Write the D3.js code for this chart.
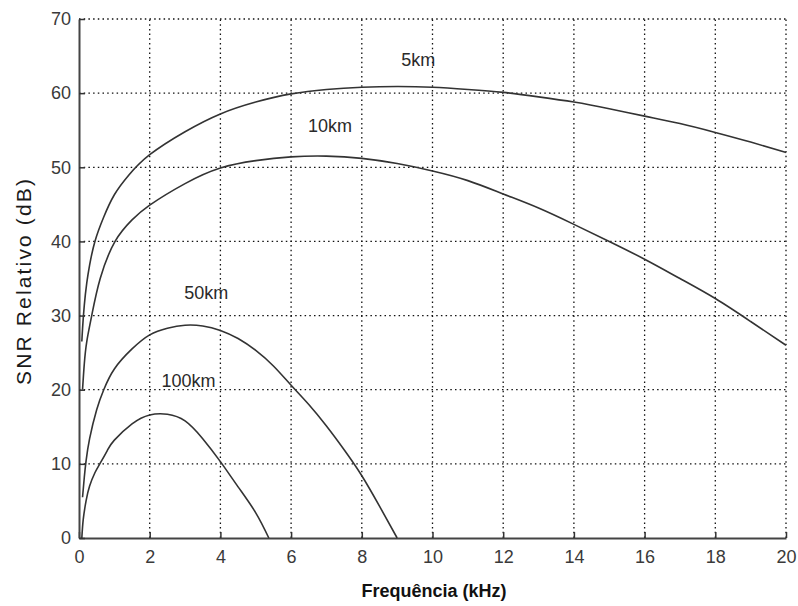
<!DOCTYPE html>
<html>
<head>
<meta charset="utf-8">
<script src="https://cdn.jsdelivr.net/npm/d3@7"></script>
<style>
  html, body { margin: 0; padding: 0; background: #fff; }
  svg { display: block; }
</style>
</head>
<body>
<svg id="chart" width="798" height="606"></svg>
<script>
// ---- data ----
const xTicks = [0, 2, 4, 6, 8, 10, 12, 14, 16, 18, 20];
const yTicks = [0, 10, 20, 30, 40, 50, 60, 70];

const freq5km = [0.08, 0.1, 0.15, 0.22, 0.3, 0.45, 0.7, 1, 1.4, 2, 3, 4, 5, 6, 7, 8, 9, 10, 11, 12, 13, 14, 15, 16, 17, 18, 19, 20];
const snr5km  = [26.5, 28.2, 31.4, 34.4, 36.8, 40, 43.3, 46.3, 48.9, 51.7, 54.8, 57.2, 58.8, 59.9, 60.5, 60.8, 60.9, 60.8, 60.5, 60.1, 59.5, 58.8, 57.9, 56.9, 55.9, 54.7, 53.4, 52];

const freq10km = [0.1, 0.15, 0.22, 0.36, 0.6, 1.02, 1.5, 2, 3, 4, 5, 6, 7, 8, 9, 10, 11, 12, 13, 14, 15, 16, 17, 18, 19, 20];
const snr10km  = [20, 23.5, 26.5, 30, 35, 40, 42.9, 44.9, 47.8, 49.9, 50.9, 51.4, 51.5, 51.2, 50.5, 49.5, 48.2, 46.4, 44.5, 42.3, 40, 37.6, 35, 32.3, 29.2, 26];

const freq50km = [0.1, 0.15, 0.2, 0.3, 0.5, 0.7, 1, 1.5, 2, 2.5, 3, 3.5, 4, 4.5, 5, 5.5, 6, 6.5, 7, 7.5, 8, 8.5, 9];
const snr50km  = [5.5, 8.2, 10.4, 13.4, 17.3, 20, 22.8, 25.5, 27.4, 28.3, 28.7, 28.6, 28, 26.9, 25.3, 23.2, 20.6, 18, 15.1, 11.9, 8.4, 4.3, 0];

const freq100km = [0.08, 0.12, 0.2, 0.3, 0.45, 0.6, 0.8, 1, 1.5, 2, 2.5, 3, 3.5, 4, 4.5, 5, 5.37];
const snr100km  = [0, 2.5, 5, 7, 8.8, 10.1, 11.8, 13.2, 15.4, 16.6, 16.7, 15.8, 13.4, 10.3, 6.9, 3.4, 0];

const seriesNames = ["5km", "10km", "50km", "100km"];
const labelAnchors = [[9.6, 63.6], [7.1, 54.7], [3.6, 32.3], [3.1, 20.3]]; // data-space label positions

const xLabel = "Frequência (kHz)";
const yLabel = "SNR Relativo (dB)";

// ---- layout ----
const svg = d3.select("#chart");
const mLeft = 79, mRight = 786, mTop = 19, mBottom = 538;

const x = d3.scaleLinear().domain([0, 20]).range([mLeft, mRight]);
const y = d3.scaleLinear().domain([0, 70]).range([mBottom, mTop]);

const series = [
  freq5km.map((f, i) => [f, snr5km[i]]),
  freq10km.map((f, i) => [f, snr10km[i]]),
  freq50km.map((f, i) => [f, snr50km[i]]),
  freq100km.map((f, i) => [f, snr100km[i]])
];

// grid
const grid = svg.append("g").attr("stroke", "#111").attr("stroke-width", 1.3)
  .attr("stroke-dasharray", "1.5,3.2").attr("fill", "none");
grid.selectAll("line.v").data(xTicks.filter(d => d > 0)).join("line").attr("class", "v")
  .attr("x1", d => x(d)).attr("x2", d => x(d)).attr("y1", y(0)).attr("y2", y(70));
grid.selectAll("line.h").data(yTicks.filter(d => d > 0)).join("line").attr("class", "h")
  .attr("y1", d => y(d)).attr("y2", d => y(d)).attr("x1", x(0)).attr("x2", x(20));

// axes
const xAxis = d3.axisBottom(x).tickValues(xTicks).tickSizeInner(-6).tickSizeOuter(0).tickPadding(12);
const yAxis = d3.axisLeft(y).tickValues(yTicks).tickSizeInner(-6).tickSizeOuter(0).tickPadding(8);

const gx = svg.append("g").attr("transform", `translate(0,${mBottom})`).call(xAxis);
const gy = svg.append("g").attr("transform", `translate(${mLeft},0)`).call(yAxis);
[gx, gy].forEach(g => {
  g.select(".domain").attr("stroke", "#444").attr("stroke-width", 2);
  g.selectAll(".tick line").attr("stroke", "#333").attr("stroke-width", 1.5);
  g.selectAll(".tick text").attr("font-family", "'Liberation Sans', Arial, sans-serif")
    .attr("font-size", 18).attr("fill", "#3a3a3a");
});

// curves
const line = d3.line().x(d => x(d[0])).y(d => y(d[1])).curve(d3.curveNatural);
svg.append("g").selectAll("path").data(series).join("path")
  .attr("d", line).attr("fill", "none").attr("stroke", "#333").attr("stroke-width", 1.6);

// curve labels
svg.append("g").selectAll("text").data(seriesNames).join("text")
  .attr("x", (d, i) => x(labelAnchors[i][0]))
  .attr("y", (d, i) => y(labelAnchors[i][1]))
  .attr("text-anchor", "middle")
  .attr("font-family", "'Liberation Sans', Arial, sans-serif")
  .attr("font-size", 18).attr("fill", "#2a2a2a")
  .text(d => d);

// axis titles
svg.append("text").attr("x", 434).attr("y", 597).attr("text-anchor", "middle")
  .attr("font-family", "'Liberation Sans', Arial, sans-serif").attr("font-weight", "bold")
  .attr("font-size", 18).attr("fill", "#111").text(xLabel);

svg.append("text").attr("transform", "translate(31,282) rotate(-90)").attr("text-anchor", "middle")
  .attr("font-family", "'Liberation Sans', Arial, sans-serif")
  .attr("font-size", 21).attr("textLength", 206).attr("lengthAdjust", "spacing")
  .attr("fill", "#1a1a1a").text(yLabel);
</script>
</body>
</html>
